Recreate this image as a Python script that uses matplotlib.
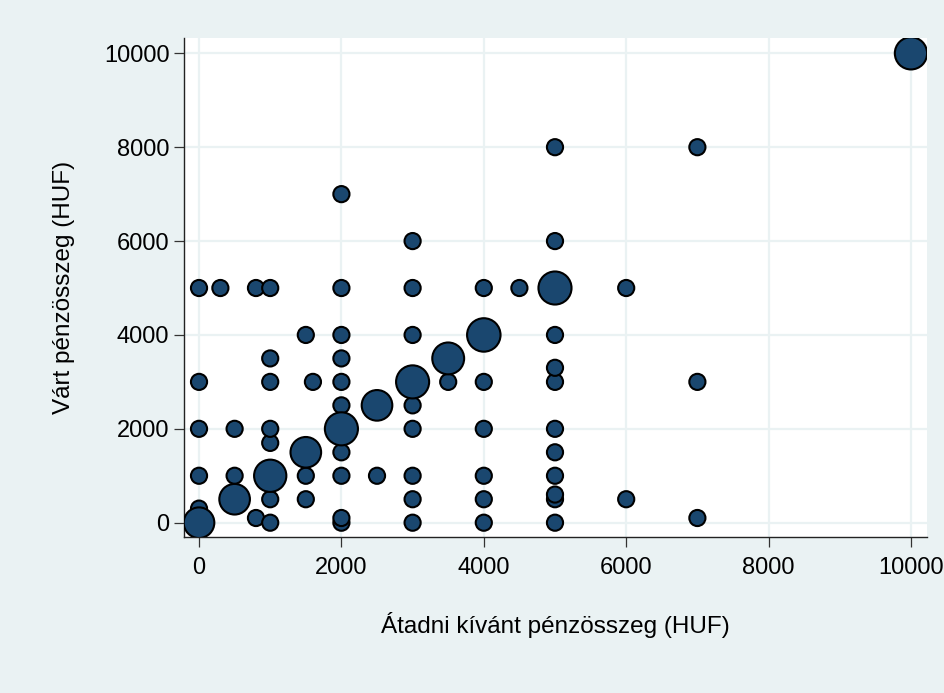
import matplotlib
matplotlib.use("Agg")
import matplotlib.pyplot as plt
import numpy as np

# Offered amount (x) and expected amount (y), in HUF, with a frequency weight per pair
offered = [
    0, 0, 0, 0, 0, 0,
    300,
    500, 500, 500,
    800, 800,
    1000, 1000, 1000, 1000, 1000, 1000, 1000, 1000,
    1500, 1500, 1500, 1500,
    1600,
    2000, 2000, 2000, 2000, 2000, 2000, 2000, 2000, 2000, 2000, 2000,
    2500, 2500,
    3000, 3000, 3000, 3000, 3000, 3000, 3000, 3000, 3000,
    3500, 3500,
    4000, 4000, 4000, 4000, 4000, 4000, 4000,
    4500,
    5000, 5000, 5000, 5000, 5000, 5000, 5000, 5000, 5000, 5000, 5000, 5000,
    6000, 6000,
    7000, 7000, 7000,
    10000,
]
expected = [
    0, 300, 1000, 2000, 3000, 5000,
    5000,
    500, 1000, 2000,
    100, 5000,
    0, 500, 1000, 1700, 2000, 3000, 3500, 5000,
    500, 1000, 1500, 4000,
    3000,
    0, 100, 1000, 1500, 2000, 2500, 3000, 3500, 4000, 5000, 7000,
    1000, 2500,
    0, 500, 1000, 2000, 2500, 3000, 4000, 5000, 6000,
    3000, 3500,
    0, 500, 1000, 2000, 3000, 4000, 5000,
    5000,
    0, 500, 600, 1000, 1500, 2000, 3000, 3300, 4000, 5000, 6000, 8000,
    500, 5000,
    100, 3000, 8000,
    10000,
]
weight = [
    3.6, 1, 1, 1, 1, 1,
    1,
    3.6, 1, 1,
    1, 1,
    1, 1, 4.0, 1, 1, 1, 1, 1,
    1, 1, 3.6, 1,
    1,
    1, 1, 1, 1, 4.2, 1, 1, 1, 1, 1, 1,
    1, 3.6,
    1, 1, 1, 1, 1, 4.2, 1, 1, 1,
    1, 3.9,
    1, 1, 1, 1, 1, 4.3, 1,
    1,
    1, 1, 1, 1, 1, 1, 1, 1, 1, 4.2, 1, 1,
    1, 1,
    1, 1, 1,
    4.0,
]

x_ticks = [0, 2000, 4000, 6000, 8000, 10000]
y_ticks = [0, 2000, 4000, 6000, 8000, 10000]

BG = "#EAF2F3"
NAVY = "#1A476F"
FONT = "Liberation Sans"
FS_TICK = 17
FS_LABEL = 17.5

W, H = 945, 693
fig = plt.figure(figsize=(W / 100, H / 100), dpi=100, facecolor=BG)
L, R, T, B = 184, 926.7, 38.3, 537.3
ax = fig.add_axes([L / W, 1 - B / H, (R - L) / W, (B - T) / H])
ax.set_facecolor("white")

# larger markers drawn last so they sit on top
x = np.array(offered, dtype=float)
y = np.array(expected, dtype=float)
w = np.array(weight, dtype=float)
order = np.argsort(w, kind="stable")
ax.scatter(x[order], y[order], s=135 * w[order], facecolor=NAVY,
           edgecolor="black", linewidth=1.5, zorder=3)

ax.set_xlim(-211, 10221)
ax.set_ylim(-311, 10320)
ax.set_xticks(x_ticks)
ax.set_yticks(y_ticks)
ax.set_xticklabels([str(v) for v in x_ticks], fontfamily=FONT, fontsize=FS_TICK)
ax.set_yticklabels([str(v) for v in y_ticks], fontfamily=FONT, fontsize=FS_TICK)

ax.grid(True, color=BG, linewidth=1.6, zorder=0)
ax.set_axisbelow(True)
for side in ("top", "right"):
    ax.spines[side].set_visible(False)
for side in ("left", "bottom"):
    ax.spines[side].set_color("#222222")
    ax.spines[side].set_linewidth(1.0)
ax.tick_params(axis="both", length=7, width=0.9, color="#333333", labelcolor="black")
ax.tick_params(axis="x", pad=7)
ax.tick_params(axis="y", pad=3.5)

fig.text(555.4 / W, 1 - 625 / H, "Átadni kívánt pénzösszeg (HUF)",
         ha="center", va="center", fontfamily=FONT, fontsize=FS_LABEL)
fig.text(64 / W, 1 - 287.8 / H, "Várt pénzösszeg (HUF)", rotation=90,
         ha="center", va="center", fontfamily=FONT, fontsize=FS_LABEL)

fig.savefig("out.png", dpi=100, facecolor=BG)
